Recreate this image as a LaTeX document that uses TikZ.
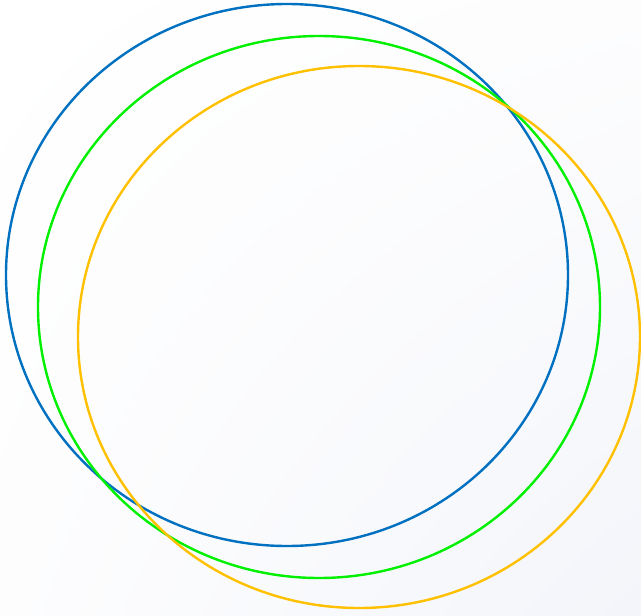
\documentclass[tikz,border=0pt]{standalone}
\usetikzlibrary{shadings}
\definecolor{cblue}{HTML}{0070C0}
\definecolor{cgreen}{HTML}{00F000}
\definecolor{corange}{HTML}{FFC000}
\definecolor{bgend}{HTML}{F3F5FA}
\definecolor{bgmid}{HTML}{FDFDFE}
\begin{document}
\begin{tikzpicture}[x=1pt,y=-1pt,ring/.style={line width=2.4pt}]
\useasboundingbox (0,0) rectangle (641,616);
\shade[upper left=white, upper right=bgmid, lower left=bgmid, lower right=bgend] (0,0) rectangle (641,616);
\draw[ring,cblue] (287,275) ellipse [x radius=281, y radius=271];
\draw[ring,cgreen] (319,307) ellipse [x radius=281, y radius=271];
\draw[ring,corange] (359,337) ellipse [x radius=281, y radius=271];
\end{tikzpicture}
\end{document}
